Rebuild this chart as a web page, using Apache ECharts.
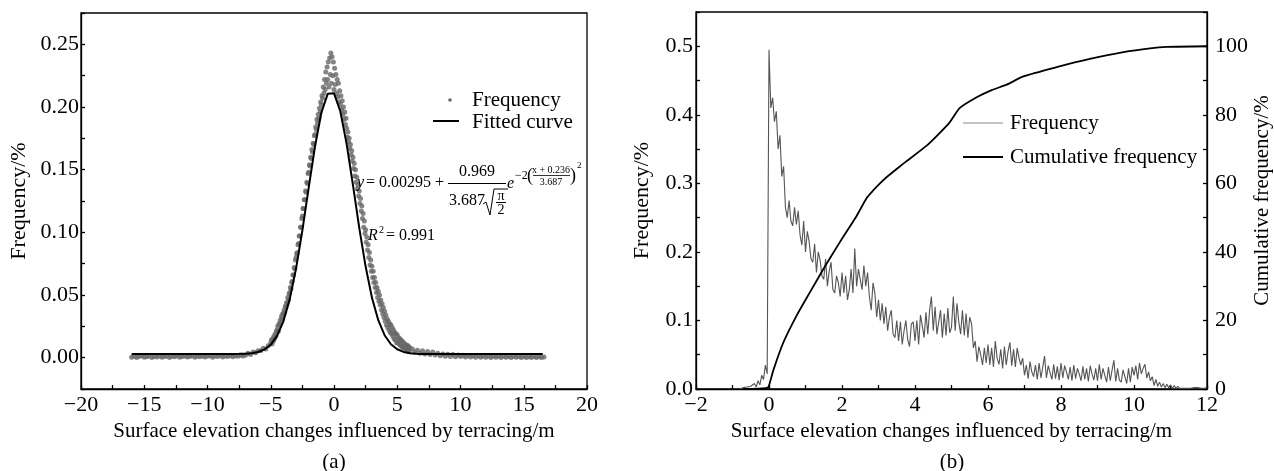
<!DOCTYPE html>
<html><head><meta charset="utf-8">
<script src="https://cdn.jsdelivr.net/npm/echarts@6.0.0/dist/echarts.min.js"></script>
<style>html,body{margin:0;padding:0;background:#fff}#c{width:1274px;height:471px}</style>
</head><body><div id="c"></div>
<script>
// ---------- Panel (a) data ----------
const dotsLeftStart = -16, dotsLeftStep = 0.2;
const dotsLeft = [
0.0004,0.0012,0.0002,0.0009,0.0015,0.0003,0.0008,0.0013,0.0001,0.0010,
0.0006,0.0014,0.0003,0.0009,0.0012,0.0002,0.0011,0.0007,0.0015,0.0004,
0.0010,0.0013,0.0005,0.0009,0.0016,0.0003,0.0012,0.0008,0.0014,0.0006,
0.0011,0.0015,0.0004,0.0013,0.0009,0.0017,0.0006,0.0014,0.0010,0.0018,
0.0008,0.0016,0.0012,0.0020,0.0014,
0.0020,0.0035,0.0025,0.0045,0.0040,0.0055,0.0055,0.0075,0.0070,0.0095];
const dotsCoreStart = -5, dotsCoreStep = 0.05;
const dotsCore = [
0.012,0.014,0.011,0.015,0.013,0.017,0.015,0.019,0.017,0.021,
0.022,0.025,0.021,0.027,0.026,0.030,0.028,0.033,0.031,0.035,
0.035,0.038,0.036,0.041,0.040,0.044,0.043,0.048,0.046,0.051,
0.052,0.056,0.055,0.060,0.061,0.066,0.066,0.072,0.071,0.078,
0.080,0.083,0.084,0.090,0.091,0.097,0.097,0.104,0.104,0.111,
0.113,0.119,0.119,0.126,0.126,0.133,0.132,0.140,0.139,0.147,
0.148,0.154,0.153,0.160,0.159,0.166,0.164,0.171,0.170,0.177,
0.178,0.184,0.182,0.190,0.187,0.194,0.191,0.199,0.196,0.204,
0.202,0.209,0.207,0.216,0.211,0.222,0.214,0.228,0.219,0.232,
0.222,0.236,0.216,0.239,0.226,0.243,0.219,0.240,0.225,0.236,
0.214,0.231,0.218,0.226,0.211,0.222,0.208,0.219,0.204,0.213,
0.202,0.209,0.198,0.205,0.194,0.200,0.190,0.196,0.186,0.191,
0.183,0.176,0.180,0.172,0.175,0.167,0.170,0.162,0.165,0.157,
0.160,0.151,0.155,0.145,0.150,0.140,0.144,0.135,0.138,0.129,
0.133,0.123,0.127,0.117,0.121,0.111,0.115,0.104,0.109,0.099,
0.102,0.092,0.096,0.086,0.090,0.080,0.084,0.074,0.078,0.069,
0.073,0.064,0.069,0.060,0.064,0.056,0.060,0.052,0.056,0.048,
0.053,0.045,0.050,0.042,0.046,0.038,0.043,0.035,0.040,0.032,
0.037,0.029,0.034,0.026,0.031,0.024,0.029,0.022,0.027,0.020,
0.026,0.019,0.024,0.017,0.022,0.015,0.020,0.014,0.019,0.012,
0.018,0.012,0.016,0.011,0.015,0.010,0.014,0.009,0.013,0.008,
0.012,0.008,0.011,0.007,0.010,0.006,0.010,0.006,0.009,0.005,
0.008];
const dotsRightStart = 6.2, dotsRightStep = 0.2;
const dotsRight = [
0.0070,0.0045,0.0060,0.0035,0.0055,0.0030,0.0050,0.0025,0.0045,0.0022,
0.0035,0.0015,0.0030,0.0012,0.0028,0.0010,0.0025,0.0008,0.0022,0.0009,
0.0020,0.0006,0.0018,0.0005,0.0016,0.0004,0.0015,0.0003,0.0014,0.0004,
0.0013,0.0002,0.0012,0.0004,0.0011,0.0002,0.0012,0.0003,0.0010,0.0001,
0.0011,0.0003,0.0009,0.0002,0.0010,0.0001,0.0008,0.0002,0.0009,0.0001,
0.0008,0.0002,0.0006];
const fitStart = -16, fitStep = 0.5;
const fitValues = [
0.00295,0.00295,0.00295,0.00295,0.00295,0.00295,0.00295,0.00295,
0.00295,0.00295,0.00295,0.00295,0.00295,0.00295,0.00295,0.00296,
0.00298,0.00304,0.0032,0.0036,0.00453,0.0065,0.0104,0.0174,0.029,0.0467,
0.0711,0.1016,0.1356,0.1687,0.1954,0.2105,0.2109,0.1966,0.1704,0.1376,
0.1034,0.0727,0.0479,0.0299,0.0179,0.0107,0.0067,0.0046,0.0036,0.0032,
0.0030,0.00298,0.00296,
0.00295,0.00295,0.00295,0.00295,0.00295,0.00295,0.00295,0.00295,0.00295,
0.00295,0.00295,0.00295,0.00295,0.00295,0.00295,0.00295,0.00295];

// ---------- Panel (b) data ----------
const freqStart = -0.8, freqStep = 0.05;
const freqValues = [
0,0,0.002,0.001,0.003,0.001,0.004,0.002,
0.008,0.003,0.012,0.006,0.02,0.014,0.035,0.022,
0.495,
0.41,0.425,0.39,0.405,0.35,0.37,0.31,0.325,0.265,0.25,
0.275,0.245,0.238,0.265,0.24,0.26,0.225,0.21,0.245,0.2,
0.23,0.215,0.19,0.185,0.212,0.17,0.2,0.188,0.165,0.16,
0.19,0.15,0.172,0.185,0.145,0.14,0.165,0.155,0.135,0.17,
0.14,0.165,0.13,0.145,0.175,0.14,0.205,0.15,0.175,0.16,
0.145,0.18,0.15,0.17,0.135,0.115,0.155,0.14,0.105,0.13,
0.1,0.125,0.095,0.12,0.085,0.105,0.115,0.08,0.075,0.1,
0.07,0.098,0.065,0.085,0.1,0.072,0.062,0.095,0.098,0.07,
0.1,0.065,0.108,0.092,0.075,0.112,0.08,0.115,0.135,0.085,
0.12,0.08,0.098,0.115,0.075,0.11,0.078,0.118,0.082,0.09,
0.135,0.085,0.125,0.098,0.08,0.115,0.078,0.11,0.075,0.105,
0.095,0.06,0.07,0.04,0.062,0.05,0.035,0.06,0.038,0.065,
0.035,0.06,0.032,0.07,0.045,0.036,0.058,0.03,0.062,0.035,
0.055,0.068,0.034,0.058,0.032,0.06,0.045,0.035,0.045,0.02,
0.035,0.015,0.04,0.025,0.018,0.035,0.014,0.038,0.016,0.032,
0.048,0.016,0.034,0.024,0.014,0.036,0.015,0.033,0.013,0.038,
0.016,0.034,0.025,0.014,0.032,0.012,0.035,0.015,0.03,0.022,
0.012,0.033,0.014,0.03,0.011,0.034,0.022,0.013,0.03,0.012,
0.036,0.014,0.03,0.02,0.01,0.032,0.012,0.028,0.042,0.011,
0.03,0.013,0.01,0.028,0.018,0.008,0.03,0.01,0.032,0.02,
0.034,0.014,0.038,0.022,0.03,0.036,0.016,0.025,0.012,0.018,
0.005,0.014,0.004,0.01,0.003,0.008,0.002,0.007,0.002,0.006,
0.001,0.005,0.001,0.004,0.001,0.003,0.001,0.002,0.001,0.002,
0.001,0.001,0.002,0.001,0.002,0.004,0.001,0.002,0.001,0.003];
const cumX = [-0.7,-0.3,-0.05,0,0.12,0.39,0.76,1.12,1.49,1.95,2.4,2.68,2.86,3.04,3.22,3.59,3.77,4.32,4.64,4.95,5.23,5.69,6.1,6.51,6.97,7.88,8.79,9.71,10.44,10.9,12];
const cumY = [0,0.1,0.3,1.0,5.5,13.5,21.5,28.2,35.0,43.0,50.5,55.8,58.0,60.0,61.8,65.0,66.5,71.0,74.3,77.8,82.0,85.1,87.2,88.8,91.2,93.9,96.3,98.3,99.4,99.8,100];

// ---------- build ----------
const FONT = '"Liberation Serif","Times New Roman",Times,serif';
function seq(start, step, vals){ return vals.map((v,i)=>[+(start+i*step).toFixed(4), v]); }
const dots = seq(dotsLeftStart,dotsLeftStep,dotsLeft).concat(seq(dotsCoreStart,dotsCoreStep,dotsCore),seq(dotsRightStart,dotsRightStep,dotsRight));
const fit = seq(fitStart, fitStep, fitValues);
const freq = seq(freqStart, freqStep, freqValues);
const cum = cumX.map((x,i)=>[x,cumY[i]]);
const minus = s => String(s).replace('-', '\u2212');

function ax(extra){
  const base = {
    type:'value',
    axisLine:{show:true,onZero:false,lineStyle:{color:'#000',width:1.3}},
    axisTick:{show:true,inside:true,length:4,lineStyle:{color:'#000',width:1.3}},
    splitLine:{show:false},
    axisLabel:{color:'#000',fontFamily:FONT,fontSize:22},
    nameTextStyle:{color:'#000',fontFamily:FONT,fontSize:21},
    nameLocation:'middle'
  };
  for (const k in extra){
    if (typeof extra[k]==='object' && base[k] && !Array.isArray(extra[k])) base[k] = Object.assign({}, base[k], extra[k]);
    else base[k] = extra[k];
  }
  return base;
}

const chart = echarts.init(document.getElementById('c'), null, {renderer:'canvas'});
const T = (text,x,y,size,opt) => Object.assign({type:'text', x:x, y:y, silent:true, z:100, style:Object.assign({text:text, fill:'#000', font:size+'px '+FONT, align:'left', verticalAlign:'middle', textAlign:'left', textVerticalAlign:'middle'}, opt||{})});
const TI = (text,x,y,size,opt) => T(text,x,y,size,Object.assign({font:'italic '+size+'px '+FONT},opt||{}));
const L = (x1,y1,x2,y2,color,w) => ({type:'line', silent:true, z:100, shape:{x1:x1,y1:y1,x2:x2,y2:y2}, style:{stroke:color,lineWidth:w}});

chart.setOption({
  animation:false,
  backgroundColor:'#fff',
  grid:[
    {left:81, top:13, width:506, height:376, show:true, borderColor:'#000', borderWidth:1.3, backgroundColor:'transparent'},
    {left:696, top:12, width:511, height:377, show:true, borderColor:'#000', borderWidth:1.3, backgroundColor:'transparent'}
  ],
  xAxis:[
    ax({gridIndex:0, min:-20, max:20, interval:2.5, name:'Surface elevation changes influenced by terracing/m', nameGap:28,
        axisLabel:{margin:5, formatter:v=>(Math.abs(Math.round(v*10))%50===0)?minus(Math.round(v)):''}}),
    ax({gridIndex:1, min:-2, max:12, interval:1, name:'Surface elevation changes influenced by terracing/m', nameGap:28,
        axisLabel:{margin:5, formatter:v=>(Math.round(v)%2===0)?minus(Math.round(v)):''}})
  ],
  yAxis:[
    ax({gridIndex:0, min:-0.025, max:0.275, interval:0.025, name:'Frequency/%', nameGap:51,
        nameTextStyle:{fontSize:22},
        axisLabel:{margin:2, formatter:v=>{const k=Math.round(v*1000);return (k>=0&&k%50===0)?(k/1000).toFixed(2):'';}}}),
    ax({gridIndex:1, min:0, max:0.55, interval:0.05, name:'Frequency/%', nameGap:43,
        nameTextStyle:{fontSize:22},
        axisLabel:{margin:3, formatter:v=>{const k=Math.round(v*1000);return (k%100===0)?(k/1000).toFixed(1):'';}}}),
    ax({gridIndex:1, position:'right', min:0, max:110, interval:10, name:'Cumulative frequency/%', nameGap:40,
        axisLabel:{margin:8, formatter:v=>{const k=Math.round(v);return (k%20===0&&k<=100)?String(k):'';}}})
  ],
  series:[
    {type:'scatter', name:'Frequency', xAxisIndex:0, yAxisIndex:0, data:dots, symbol:'circle', symbolSize:5,
     itemStyle:{color:'#666666'}, silent:true, z:2},
    {type:'line', name:'Fitted curve', xAxisIndex:0, yAxisIndex:0, data:fit, symbol:'none', showSymbol:false,
     lineStyle:{color:'#000',width:2}, silent:true, z:3},
    {type:'line', name:'Frequency (b)', xAxisIndex:1, yAxisIndex:1, data:freq, symbol:'none', showSymbol:false,
     lineStyle:{color:'#555',width:1.1}, silent:true, z:2},
    {type:'line', name:'Cumulative frequency', xAxisIndex:1, yAxisIndex:2, data:cum, symbol:'none', showSymbol:false,
     smooth:0.2, lineStyle:{color:'#000',width:1.8}, silent:true, z:3}
  ],
  graphic:[
    // legend (a)
    {type:'circle', silent:true, z:100, shape:{cx:450, cy:100, r:1.8}, style:{fill:'#666'}},
    T('Frequency', 472, 100, 21),
    L(433,121,459,121,'#000',2),
    T('Fitted curve', 472, 122, 21),
    // legend (b)
    L(963,123,1003,123,'#888',1),
    T('Frequency', 1010, 123, 21),
    L(963,157,1003,157,'#000',2),
    T('Cumulative frequency', 1010, 157, 21),
    // equation
    TI('y', 357, 183, 16),
    T('= 0.00295 +', 366, 183, 16),
    T('0.969', 477, 172, 16, {align:'center', textAlign:'center'}),
    L(448,183.5,506,183.5,'#000',1),
    T('3.687', 449, 201, 16),
    {type:'polyline', silent:true, z:100, shape:{points:[[483,204],[486,202],[490,215],[494,189],[508,189]]}, style:{stroke:'#000', lineWidth:1, fill:null}},
    T('\u03c0', 501, 196, 14, {align:'center', textAlign:'center'}),
    L(496,202.5,506,202.5,'#000',1),
    T('2', 501, 210, 14, {align:'center', textAlign:'center'}),
    TI('e', 507, 184, 16),
    T('\u22122', 515, 176, 12),
    T('(', 527, 176, 18),
    T('x + 0.236', 551, 170, 10, {align:'center', textAlign:'center'}),
    L(533,175.5,570,175.5,'#000',0.8),
    T('3.687', 551, 182, 10, {align:'center', textAlign:'center'}),
    T(')', 570, 176, 18),
    T('2', 577, 166, 9),
    TI('R', 368, 236, 16),
    T('2', 379, 230, 10),
    T('= 0.991', 386, 236, 16),
    // captions
    T('(a)', 334, 462, 21, {align:'center', textAlign:'center'}),
    T('(b)', 952, 462, 21, {align:'center', textAlign:'center'})
  ]
});
</script></body></html>
